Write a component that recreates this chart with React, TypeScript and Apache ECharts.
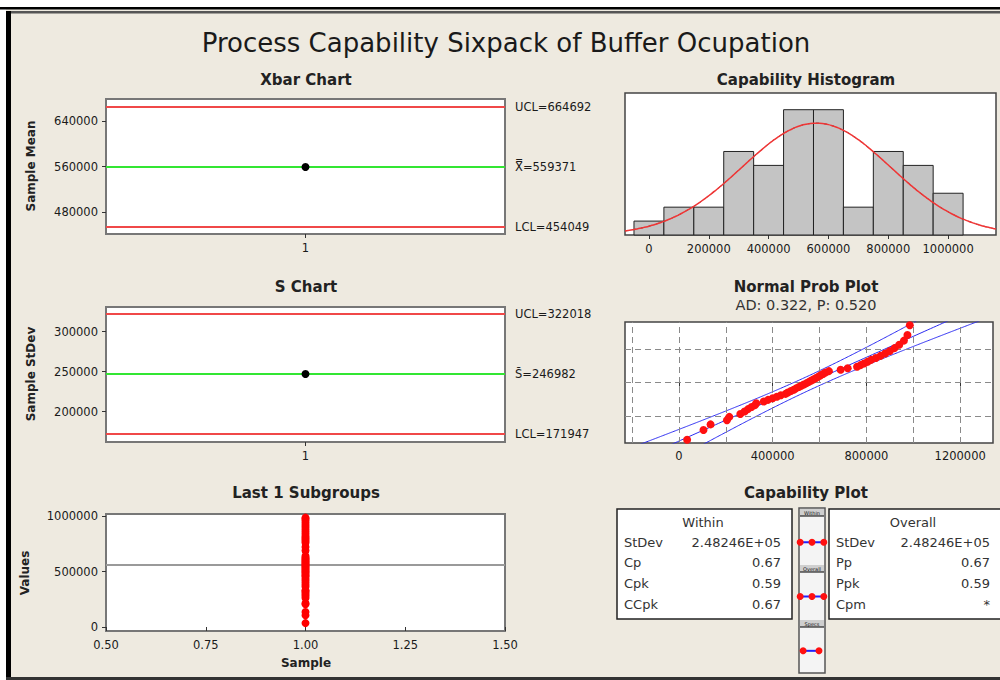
import React, { useEffect, useRef } from "react";
import * as echarts from "echarts";

const FONT = "'DejaVu Sans', Verdana, sans-serif";
const BG = "#EEEAE0";

const chartTitle = "Process Capability Sixpack of Buffer Ocupation";

// ---- Xbar chart ----
const xbarCategories = ["1"];
const xbarValues = [559371];
const xbarUCL = 664692;
const xbarCL = 559371;
const xbarLCL = 454049;
const xbarTicks = [480000, 560000, 640000];

// ---- S chart ----
const sCategories = ["1"];
const sValues = [246982];
const sUCL = 322018;
const sCL = 246982;
const sLCL = 171947;
const sTicks = [200000, 250000, 300000];

// ---- observations (subgroup 1, n = 50) ----
const subgroupIndex = 1;
const observations = [
  35000, 105000, 135000, 205000, 215000, 262000, 280000, 295000, 310000, 325000,
  330000, 362000, 380000, 400000, 418000, 435000, 455000, 465000, 478000, 490000,
  500000, 512000, 522000, 533000, 545000, 555000, 565000, 575000, 585000, 595000,
  605000, 615000, 625000, 640000, 690000, 720000, 760000, 775000, 790000, 805000,
  820000, 840000, 860000, 880000, 900000, 920000, 940000, 960000, 975000, 985000,
];
const valueTicks = [0, 500000, 1000000];
const sampleTicks = [0.5, 0.75, 1.0, 1.25, 1.5];

// ---- capability histogram ----
const binStarts = [-50000, 50000, 150000, 250000, 350000, 450000, 550000, 650000, 750000, 850000, 950000];
const binWidth = 100000;
const binCounts = [1, 2, 2, 6, 5, 9, 9, 2, 6, 5, 3];
const histTicks = [0, 200000, 400000, 600000, 800000, 1000000];

// ---- process statistics ----
const processMean = 559371;
const withinStDev = 248246;
const overallStDev = 248246;
const LSL = 0;
const USL = 1000000;
const adText = "AD: 0.322, P: 0.520";

// ---- normal probability plot ----
const probTicks = [0, 400000, 800000, 1200000];
const probGridX = [-200000, 0, 200000, 400000, 600000, 800000, 1000000, 1200000];
const probGridPct = [10, 50, 90];
const probRangePct = [1, 99];

// ---- capability plot ----
const withinRows = [
  ["StDev", "2.48246E+05"],
  ["Cp", "0.67"],
  ["Cpk", "0.59"],
  ["CCpk", "0.67"],
];
const overallRows = [
  ["StDev", "2.48246E+05"],
  ["Pp", "0.67"],
  ["Ppk", "0.59"],
  ["Cpm", "*"],
];
const stripRows = ["Within", "Overall", "Specs"];

function normInv(p: number): number {
  const a = [-3.969683028665376e1, 2.209460984245205e2, -2.759285104469687e2, 1.38357751867269e2, -3.066479806614716e1, 2.506628277459239];
  const b = [-5.447609879822406e1, 1.615858368580409e2, -1.556989798598866e2, 6.680131188771972e1, -1.328068155288572e1];
  const c = [-7.784894002430293e-3, -3.223964580411365e-1, -2.400758277161838, -2.549732539343734, 4.374664141464968, 2.938163982698783];
  const d = [7.784695709041462e-3, 3.224671290700398e-1, 2.445134137142996, 3.754408661907416];
  const plow = 0.02425;
  if (p < plow) {
    const q = Math.sqrt(-2 * Math.log(p));
    return (((((c[0] * q + c[1]) * q + c[2]) * q + c[3]) * q + c[4]) * q + c[5]) / ((((d[0] * q + d[1]) * q + d[2]) * q + d[3]) * q + 1);
  }
  if (p <= 1 - plow) {
    const q = p - 0.5;
    const r = q * q;
    return ((((((a[0] * r + a[1]) * r + a[2]) * r + a[3]) * r + a[4]) * r + a[5]) * q) / (((((b[0] * r + b[1]) * r + b[2]) * r + b[3]) * r + b[4]) * r + 1);
  }
  const q = Math.sqrt(-2 * Math.log(1 - p));
  return -(((((c[0] * q + c[1]) * q + c[2]) * q + c[3]) * q + c[4]) * q + c[5]) / ((((d[0] * q + d[1]) * q + d[2]) * q + d[3]) * q + 1);
}

const fmtInt = (v: number) => String(Math.round(v));

function txt(text: string, x: number, y: number, o: any = {}) {
  const align = o.align || "center";
  const va = o.va || "middle";
  return {
    type: "text",
    x,
    y,
    rotation: o.rotation || 0,
    silent: true,
    z: 10,
    style: {
      text,
      fill: o.fill || "#222",
      fontSize: o.size || 12,
      fontFamily: FONT,
      fontWeight: o.bold ? "bold" : "normal",
      align,
      verticalAlign: va,
      textAlign: align,
      textVerticalAlign: va,
    },
  };
}

function buildOption() {
  const n = observations.length;
  const zMin = normInv(probRangePct[0] / 100);
  const zMax = normInv(probRangePct[1] / 100);
  const sorted = [...observations].sort((p, q) => p - q);
  const probPoints = sorted.map((v, i) => [v, normInv((i + 1 - 0.3) / (n + 0.4))]);
  const zSteps: number[] = [];
  for (let z = zMin - 0.05; z <= zMax + 0.05; z += 0.05) zSteps.push(z);
  const fitLine = zSteps.map((z) => [processMean + z * overallStDev, z]);
  const band = (sign: number) =>
    zSteps.map((z) => [
      processMean + z * overallStDev + sign * 1.96 * overallStDev * Math.sqrt(1 / n + (z * z) / (2 * n)),
      z,
    ]);

  const histMin = -80000;
  const histMax = 1160000;
  const curvePts = (sd: number) => {
    const pts: number[][] = [];
    for (let x = histMin; x <= histMax; x += 10000) {
      const zz = (x - processMean) / sd;
      pts.push([x, (n * binWidth * Math.exp(-0.5 * zz * zz)) / (sd * Math.sqrt(2 * Math.PI))]);
    }
    return pts;
  };

  const boxL = { show: true, backgroundColor: "#ffffff", borderColor: "#777777", borderWidth: 2 };
  const boxR = { show: true, backgroundColor: "#ffffff", borderColor: "#444444", borderWidth: 1.5 };

  const tickLabel = { fontSize: 11.5, color: "#1a1a1a", fontFamily: FONT };
  const hiddenAxis = {
    axisLine: { show: false },
    axisTick: { show: false },
    axisLabel: { show: false },
    splitLine: { show: false },
  };

  const valueYAxis = (gridIndex: number, min: number, max: number, ticks: number[]) => ({
    type: "value",
    gridIndex,
    min,
    max,
    axisLine: { show: false },
    splitLine: { show: false },
    axisTick: { show: true, customValues: ticks, length: 4, lineStyle: { color: "#333" } },
    axisLabel: { ...tickLabel, customValues: ticks, margin: 8, formatter: fmtInt },
  });

  const catXAxis = (gridIndex: number, data: string[]) => ({
    type: "category",
    gridIndex,
    data,
    boundaryGap: true,
    axisLine: { show: false },
    splitLine: { show: false },
    axisTick: { show: true, alignWithLabel: true, length: 4, lineStyle: { color: "#333" } },
    axisLabel: { ...tickLabel, margin: 8 },
  });

  const limitLines = (xi: number, ucl: number, cl: number, lcl: number, clLabel: string) => ({
    type: "line",
    xAxisIndex: xi,
    yAxisIndex: xi,
    data: [],
    z: 2,
    silent: true,
    markLine: {
      silent: true,
      symbol: ["none", "none"],
      animation: false,
      label: { position: "end", distance: 10, fontSize: 11.5, color: "#1a1a1a", fontFamily: FONT },
      data: [
        { yAxis: ucl, lineStyle: { color: "#F04848", width: 2, type: "solid" }, label: { formatter: "UCL=" + ucl } },
        { yAxis: cl, lineStyle: { color: "#33E633", width: 2, type: "solid" }, label: { formatter: clLabel + "=" + cl } },
        { yAxis: lcl, lineStyle: { color: "#F04848", width: 2, type: "solid" }, label: { formatter: "LCL=" + lcl } },
      ],
    },
  });

  const dashed = { color: "#8a8a8a", width: 1, type: [6, 4] };
  const withinInterval = [processMean - 3 * withinStDev, processMean, processMean + 3 * withinStDev];
  const overallInterval = [processMean - 3 * overallStDev, processMean, processMean + 3 * overallStDev];
  const specInterval = [LSL, USL];

  const graphics: any[] = [
    // window frame
    { type: "rect", shape: { x: 0, y: 0, width: 1000, height: 7 }, style: { fill: "#ffffff" }, silent: true },
    { type: "rect", shape: { x: 0, y: 0, width: 6, height: 680 }, style: { fill: "#ffffff" }, silent: true },
    { type: "rect", shape: { x: 0, y: 7, width: 1000, height: 2.5 }, style: { fill: "#000000" }, silent: true },
    { type: "rect", shape: { x: 6, y: 11, width: 5, height: 669 }, style: { fill: "#000000" }, silent: true },
    { type: "rect", shape: { x: 11, y: 11, width: 989, height: 2.5 }, style: { fill: "#555555" }, silent: true },
    { type: "rect", shape: { x: 6, y: 677, width: 994, height: 3 }, style: { fill: "#333333" }, silent: true },

    txt(chartTitle, 506, 43, { size: 26, fill: "#1a1a1a" }),
    txt("Xbar Chart", 306, 80, { size: 15, bold: true }),
    txt("S Chart", 306, 287, { size: 15, bold: true }),
    txt("Last 1 Subgroups", 306, 493, { size: 15, bold: true }),
    txt("Capability Histogram", 806, 80, { size: 15, bold: true }),
    txt("Normal Prob Plot", 806, 287, { size: 15, bold: true }),
    txt(adText, 806, 305, { size: 14.5, fill: "#333" }),
    txt("Capability Plot", 806, 493, { size: 15, bold: true }),
    txt("Sample Mean", 31, 166, { size: 12, bold: true, rotation: Math.PI / 2 }),
    txt("Sample StDev", 31, 374, { size: 12, bold: true, rotation: Math.PI / 2 }),
    txt("Values", 25, 573, { size: 12, bold: true, rotation: Math.PI / 2 }),
    txt("Sample", 306, 663, { size: 12, bold: true }),

    // capability tables
    { type: "rect", shape: { x: 617, y: 509, width: 175, height: 110 }, style: { fill: "#ffffff", stroke: "#222", lineWidth: 1.5 }, silent: true },
    { type: "rect", shape: { x: 829, y: 509, width: 175, height: 110 }, style: { fill: "#ffffff", stroke: "#222", lineWidth: 1.5 }, silent: true },
    txt("Within", 703, 522, { size: 13, fill: "#333" }),
    txt("Overall", 913, 522, { size: 13, fill: "#333" }),
    // strip
    { type: "rect", shape: { x: 799, y: 508, width: 26, height: 165 }, style: { fill: "#f4f4f4", stroke: "#555", lineWidth: 1.5 }, silent: true },
  ];
  const rowY = [542, 562, 583, 604];
  withinRows.forEach((r, i) => {
    graphics.push(txt(r[0], 624, rowY[i], { size: 13, fill: "#333", align: "left" }));
    graphics.push(txt(r[1], 781, rowY[i], { size: 13, fill: "#333", align: "right" }));
  });
  overallRows.forEach((r, i) => {
    graphics.push(txt(r[0], 836, rowY[i], { size: 13, fill: "#333", align: "left" }));
    graphics.push(txt(r[1], 990, rowY[i], { size: 13, fill: "#333", align: "right" }));
  });
  const headerY = [509, 565, 620];
  stripRows.forEach((name, i) => {
    graphics.push({ type: "rect", shape: { x: 800, y: headerY[i], width: 24, height: 7 }, style: { fill: "#cfcfcf" }, silent: true });
    graphics.push({ type: "line", shape: { x1: 800, y1: headerY[i] + 7, x2: 824, y2: headerY[i] + 7 }, style: { stroke: "#222", lineWidth: 1.2 }, silent: true });
    graphics.push(txt(name, 812, headerY[i] + 3.5, { size: 5, fill: "#111" }));
  });

  return {
    animation: false,
    backgroundColor: BG,
    textStyle: { fontFamily: FONT },
    grid: [
      { left: 106, top: 99, width: 399, height: 135, ...boxL },
      { left: 106, top: 307, width: 399, height: 135, ...boxL },
      { left: 106, top: 514, width: 399, height: 117, ...boxL },
      { left: 625, top: 93, width: 371, height: 142, ...boxR },
      { left: 625, top: 322, width: 368, height: 121, ...boxR },
      { left: 799, top: 515, width: 26, height: 163, show: false },
    ],
    xAxis: [
      catXAxis(0, xbarCategories),
      catXAxis(1, sCategories),
      {
        type: "value",
        gridIndex: 2,
        min: 0.5,
        max: 1.5,
        axisLine: { show: false },
        splitLine: { show: false },
        axisTick: { show: true, customValues: sampleTicks, length: 4, lineStyle: { color: "#333" } },
        axisLabel: { ...tickLabel, customValues: sampleTicks, margin: 8, formatter: (v: number) => v.toFixed(2) },
      },
      {
        type: "value",
        gridIndex: 3,
        min: histMin,
        max: histMax,
        axisLine: { show: false },
        splitLine: { show: false },
        axisTick: { show: true, customValues: histTicks, length: 4, lineStyle: { color: "#333" } },
        axisLabel: { ...tickLabel, customValues: histTicks, margin: 8, formatter: fmtInt },
      },
      {
        type: "value",
        gridIndex: 4,
        min: -230000,
        max: 1340000,
        axisLine: { show: false },
        splitLine: { show: false },
        axisTick: { show: true, customValues: probTicks, length: 4, lineStyle: { color: "#333" } },
        axisLabel: { ...tickLabel, customValues: probTicks, margin: 7, formatter: fmtInt },
      },
      { type: "value", gridIndex: 5, min: -260000, max: 1380000, ...hiddenAxis },
    ],
    yAxis: [
      valueYAxis(0, 441800, 678700, xbarTicks),
      valueYAxis(1, 161900, 330800, sTicks),
      valueYAxis(2, -36000, 1018000, valueTicks),
      { type: "value", gridIndex: 3, min: 0, max: 10.2, ...hiddenAxis },
      { type: "value", gridIndex: 4, min: zMin, max: zMax, ...hiddenAxis },
      { type: "category", gridIndex: 5, data: stripRows, inverse: true, ...hiddenAxis },
    ],
    series: [
      limitLines(0, xbarUCL, xbarCL, xbarLCL, "X\u033F"),
      {
        type: "line",
        xAxisIndex: 0,
        yAxisIndex: 0,
        z: 5,
        data: xbarValues,
        symbol: "circle",
        symbolSize: 8,
        itemStyle: { color: "#000" },
        lineStyle: { color: "#000", width: 1 },
      },
      limitLines(1, sUCL, sCL, sLCL, "S\u0304"),
      {
        type: "line",
        xAxisIndex: 1,
        yAxisIndex: 1,
        z: 5,
        data: sValues,
        symbol: "circle",
        symbolSize: 8,
        itemStyle: { color: "#000" },
        lineStyle: { color: "#000", width: 1 },
      },
      {
        type: "scatter",
        xAxisIndex: 2,
        yAxisIndex: 2,
        z: 5,
        data: observations.map((v) => [subgroupIndex, v]),
        symbolSize: 8,
        itemStyle: { color: "#FF0000", opacity: 1 },
        markLine: {
          silent: true,
          symbol: ["none", "none"],
          label: { show: false },
          lineStyle: { color: "#9a9a9a", width: 2, type: "solid" },
          data: [{ yAxis: processMean }],
        },
      },
      {
        type: "custom",
        xAxisIndex: 3,
        yAxisIndex: 3,
        z: 3,
        data: binCounts.map((c, i) => [binStarts[i], binStarts[i] + binWidth, c]),
        encode: { x: [0, 1], y: 2 },
        renderItem: (_params: any, api: any) => {
          const p0 = api.coord([api.value(0), api.value(2)]);
          const p1 = api.coord([api.value(1), 0]);
          return {
            type: "rect",
            shape: { x: p0[0], y: p0[1], width: p1[0] - p0[0], height: p1[1] - p0[1] },
            style: { fill: "#C4C4C4", stroke: "#222", lineWidth: 1 },
          };
        },
      },
      {
        type: "line",
        xAxisIndex: 3,
        yAxisIndex: 3,
        z: 4,
        data: curvePts(overallStDev),
        showSymbol: false,
        smooth: true,
        lineStyle: { color: "#333", width: 1, type: [3, 5] },
      },
      {
        type: "line",
        xAxisIndex: 3,
        yAxisIndex: 3,
        z: 5,
        data: curvePts(withinStDev),
        showSymbol: false,
        smooth: true,
        lineStyle: { color: "#F03535", width: 1.5 },
      },
      {
        type: "line",
        xAxisIndex: 4,
        yAxisIndex: 4,
        z: 2,
        data: [],
        markLine: {
          silent: true,
          symbol: ["none", "none"],
          label: { show: false },
          lineStyle: dashed,
          data: [
            ...probGridPct.map((p) => ({ yAxis: normInv(p / 100) })),
            ...probGridX.map((x) => ({ xAxis: x })),
          ],
        },
      },
      {
        type: "line",
        xAxisIndex: 4,
        yAxisIndex: 4,
        z: 3,
        data: fitLine,
        showSymbol: false,
        lineStyle: { color: "#2A2AF0", width: 1 },
      },
      {
        type: "line",
        xAxisIndex: 4,
        yAxisIndex: 4,
        z: 3,
        data: band(-1),
        showSymbol: false,
        smooth: true,
        lineStyle: { color: "#2A2AF0", width: 1 },
      },
      {
        type: "line",
        xAxisIndex: 4,
        yAxisIndex: 4,
        z: 3,
        data: band(1),
        showSymbol: false,
        smooth: true,
        lineStyle: { color: "#2A2AF0", width: 1 },
      },
      {
        type: "scatter",
        xAxisIndex: 4,
        yAxisIndex: 4,
        z: 5,
        data: probPoints,
        symbolSize: 8,
        itemStyle: { color: "#FF1010", opacity: 1 },
      },
      ...[withinInterval, overallInterval, specInterval].map((iv, row) => ({
        type: "line",
        xAxisIndex: 5,
        yAxisIndex: 5,
        z: 5,
        data: iv.map((x) => [x, row]),
        symbol: "circle",
        symbolSize: 7,
        showSymbol: true,
        itemStyle: { color: "#FF1010" },
        lineStyle: { color: "#2020FF", width: 2 },
      })),
    ],
    graphic: { elements: graphics },
  };
}

export default function App() {
  const ref = useRef<HTMLDivElement>(null);
  useEffect(() => {
    document.body.style.margin = "0";
    const chart = echarts.init(ref.current as HTMLDivElement, null, { renderer: "svg" });
    chart.setOption(buildOption() as any);
    return () => chart.dispose();
  }, []);
  return <div ref={ref} style={{ width: 1000, height: 680 }} />;
}
